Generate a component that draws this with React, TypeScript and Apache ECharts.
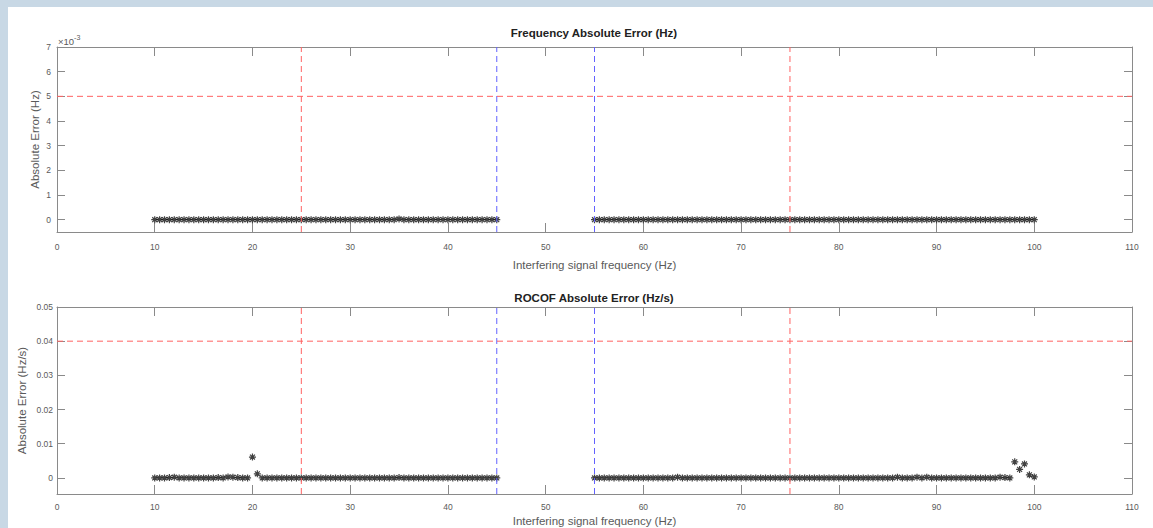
import React, { useEffect, useRef } from "react";
import * as echarts from "echarts";

// Interfering signal frequency sweep (Hz)
const freqLow = [10,10.5,11,11.5,12,12.5,13,13.5,14,14.5,15,15.5,16,16.5,17,17.5,18,18.5,19,19.5,20,20.5,21,21.5,22,22.5,23,23.5,24,24.5,25,25.5,26,26.5,27,27.5,28,28.5,29,29.5,30,30.5,31,31.5,32,32.5,33,33.5,34,34.5,35,35.5,36,36.5,37,37.5,38,38.5,39,39.5,40,40.5,41,41.5,42,42.5,43,43.5,44,44.5,45];
const freqHigh = [55,55.5,56,56.5,57,57.5,58,58.5,59,59.5,60,60.5,61,61.5,62,62.5,63,63.5,64,64.5,65,65.5,66,66.5,67,67.5,68,68.5,69,69.5,70,70.5,71,71.5,72,72.5,73,73.5,74,74.5,75,75.5,76,76.5,77,77.5,78,78.5,79,79.5,80,80.5,81,81.5,82,82.5,83,83.5,84,84.5,85,85.5,86,86.5,87,87.5,88,88.5,89,89.5,90,90.5,91,91.5,92,92.5,93,93.5,94,94.5,95,95.5,96,96.5,97,97.5,98,98.5,99,99.5,100];

// Frequency absolute error (Hz)
const freqErrLow = [0,0,0,0,0,0,0,0,0,0,0,0,0,0,0,0,0,0,0,0,0,0,0,0,0,0,0,0,0,0,0,0,0,0,0,0,0,0,0,0,0,0,0,0,0,0,0,0,0,0,0.00003,0,0,0,0,0,0,0,0,0,0,0,0,0,0,0,0,0,0,0,0];
const freqErrHigh = [0,0,0,0,0,0,0,0,0,0,0,0,0,0,0,0,0,0,0,0,0,0,0,0,0,0,0,0,0,0,0,0,0,0,0,0,0,0,0,0,0,0,0,0,0,0,0,0,0,0,0,0,0,0,0,0,0,0,0,0,0,0,0,0,0,0,0,0,0,0,0,0,0,0,0,0,0,0,0,0,0,0,0,0,0,0,0,0,0,0,0];

// ROCOF absolute error (Hz/s)
const rocofErrLow = [0,0,0,0.0001,0.0002,0,0,0,0,0,0,0,0,0.0001,0,0.0003,0.0002,0.0001,0,0,0.0061,0.0012,0,0,0,0,0,0,0,0,0,0,0,0,0,0,0,0,0,0,0,0,0,0,0,0,0,0,0,0,0.0001,0,0,0,0,0,0,0,0,0,0,0,0,0,0,0,0,0,0,0,0];
const rocofErrHigh = [0,0,0,0,0,0,0,0,0,0,0,0,0,0,0,0,0,0.0002,0,0,0,0,0,0,0,0,0,0,0,0,0,0,0,0,0,0,0,0,0,0,0,0,0,0,0,0,0,0,0,0,0,0,0,0,0,0,0,0,0,0,0,0,0.0002,0,0,0,0.0002,0,0.0002,0,0,0,0,0,0,0,0,0,0,0,0,0,0,0.0002,0.0001,0,0.0047,0.0025,0.0041,0.0009,0.0003];

const xTicks = [0, 10, 20, 30, 40, 50, 60, 70, 80, 90, 100, 110];
const freqYTicks = [0, 0.001, 0.002, 0.003, 0.004, 0.005, 0.006, 0.007];
const rocofYTicks = [0, 0.01, 0.02, 0.03, 0.04, 0.05];

const redLinesX = [25, 75];
const blueLinesX = [45, 55];
const freqLimit = 0.005;
const rocofLimit = 0.04;

const X_MIN = 0;
const X_MAX = 110;
const FREQ_Y = [-0.0005, 0.007];
const ROCOF_Y = [-0.0047, 0.05];

const FONT = "Liberation Sans";
const LINE = "#8a8a8a";
const LABEL = "#5a5a5a";
const RED = "#ff6262";
const BLUE = "#6262ff";
const BG_STRIP = "#c8d8e5";
const STAR = "path://M5,0L5,10M0,5L10,5M1.5,1.5L8.5,8.5M1.5,8.5L8.5,1.5";

const zip = (xs: number[], ys: number[]) => xs.map((x, i) => [x, ys[i]]);

export default function App() {
  const ref = useRef<HTMLDivElement>(null);
  useEffect(() => {
    document.documentElement.style.background = "#ffffff";
    document.documentElement.style.overflow = "hidden";
    document.body.style.margin = "0";
    document.body.style.background = "#ffffff";
    const chart = echarts.init(ref.current!, null, { renderer: "svg" });

    const xBottom = (gridIndex: number, labelMargin: number, nameGap: number) => ({
      type: "value",
      gridIndex,
      position: "bottom",
      min: X_MIN,
      max: X_MAX,
      interval: 10,
      name: "Interfering signal frequency (Hz)",
      nameLocation: "middle",
      nameGap,
      nameMoveOverlap: false,
      nameTextStyle: { fontFamily: FONT, fontSize: 11.5, color: LABEL },
      axisLine: { show: true, onZero: false, lineStyle: { color: LINE, width: 1 } },
      axisTick: { show: true, inside: true, length: 9, lineStyle: { color: LINE } },
      axisLabel: {
        show: true,
        margin: labelMargin,
        fontFamily: FONT,
        fontSize: 8.5,
        color: LABEL,
        customValues: xTicks,
      },
      splitLine: { show: false },
    });
    const xTop = (gridIndex: number) => ({
      type: "value",
      gridIndex,
      position: "top",
      min: X_MIN,
      max: X_MAX,
      interval: 10,
      axisLine: { show: true, onZero: false, lineStyle: { color: LINE, width: 1 } },
      axisTick: { show: true, inside: true, length: 9, lineStyle: { color: LINE } },
      axisLabel: { show: false },
      splitLine: { show: false },
    });
    const yLeft = (gridIndex: number, range: number[], ticks: number[], name: string, nameGap: number, labelMargin: number, fmt: (v: number) => string) => ({
      type: "value",
      gridIndex,
      position: "left",
      min: range[0],
      max: range[1],
      name,
      nameLocation: "middle",
      nameGap,
      nameMoveOverlap: false,
      nameTextStyle: { fontFamily: FONT, fontSize: 11.5, color: LABEL },
      axisLine: { show: true, onZero: false, lineStyle: { color: LINE, width: 1 } },
      axisTick: { show: true, inside: true, length: 8, lineStyle: { color: LINE }, customValues: ticks },
      axisLabel: {
        show: true,
        margin: labelMargin,
        fontFamily: FONT,
        fontSize: 8.5,
        color: LABEL,
        customValues: ticks,
        formatter: fmt,
      },
      splitLine: { show: false },
    });
    const yRight = (gridIndex: number, range: number[], ticks: number[]) => ({
      type: "value",
      gridIndex,
      position: "right",
      min: range[0],
      max: range[1],
      axisLine: { show: true, onZero: false, lineStyle: { color: LINE, width: 1 } },
      axisTick: { show: true, inside: true, length: 8, lineStyle: { color: LINE }, customValues: ticks },
      axisLabel: { show: false, customValues: ticks },
      splitLine: { show: false },
    });

    const scatter = (xAxisIndex: number, yAxisIndex: number, data: number[][]) => ({
      type: "scatter",
      xAxisIndex,
      yAxisIndex,
      data,
      symbol: STAR,
      symbolSize: 7,
      itemStyle: { color: "transparent", borderColor: "#111", borderWidth: 1.2 },
      z: 3,
    });
    const refLine = (axisIndex: number, color: string, data: number[][]) => ({
      type: "line",
      xAxisIndex: axisIndex,
      yAxisIndex: axisIndex,
      data,
      symbol: "none",
      silent: true,
      z: 4,
      lineStyle: { color, type: [6, 4], width: 1 },
      itemStyle: { color },
    });
    const refLinesFor = (axisIndex: number, yRange: number[], limit: number) => [
      ...redLinesX.map((x) => refLine(axisIndex, RED, [[x, yRange[0]], [x, yRange[1]]])),
      ...blueLinesX.map((x) => refLine(axisIndex, BLUE, [[x, yRange[0]], [x, yRange[1]]])),
      refLine(axisIndex, RED, [[X_MIN, limit], [X_MAX, limit]]),
    ];

    const titleStyle = (text: string) => ({
      text,
      fontFamily: FONT,
      fontWeight: "bold",
      fontSize: 11.5,
      fill: "#222",
      textAlign: "center",
      textVerticalAlign: "middle",
    });

    chart.setOption({
      animation: false,
      backgroundColor: "#ffffff",
      grid: [
        { left: 49, top: 40, width: 1075, height: 185, outerBoundsMode: "none", containLabel: false },
        { left: 49, top: 300, width: 1075, height: 187, outerBoundsMode: "none", containLabel: false },
      ],
      xAxis: [xBottom(0, 10, 27), xTop(0), xBottom(1, 8, 21), xTop(1)],
      yAxis: [
        yLeft(0, FREQ_Y, freqYTicks, "Absolute Error (Hz)", 16, 6, (v: number) => String(Math.round(v * 1000))),
        yRight(0, FREQ_Y, freqYTicks),
        yLeft(1, ROCOF_Y, rocofYTicks, "Absolute Error (Hz/s)", 29, 4, (v: number) => (v === 0 ? "0" : v.toFixed(2))),
        yRight(1, ROCOF_Y, rocofYTicks),
      ],
      graphic: [
        { type: "text", x: 586, y: 26, style: titleStyle("Frequency Absolute Error (Hz)") },
        { type: "text", x: 586, y: 291, style: titleStyle("ROCOF Absolute Error (Hz/s)") },
        {
          type: "text",
          x: 50,
          y: 34,
          style: {
            text: "×10{sup|-3}",
            fontFamily: FONT,
            fontSize: 9.5,
            fill: LABEL,
            textVerticalAlign: "middle",
            rich: { sup: { fontFamily: FONT, fontSize: 7, fill: LABEL, verticalAlign: "top", padding: [0, 0, 7, 0] } },
          },
        },
      ],
      series: [
        scatter(0, 0, zip(freqLow, freqErrLow)),
        scatter(0, 0, zip(freqHigh, freqErrHigh)),
        ...refLinesFor(0, FREQ_Y, freqLimit),
        scatter(2, 2, zip(freqLow, rocofErrLow)),
        scatter(2, 2, zip(freqHigh, rocofErrHigh)),
        ...refLinesFor(2, ROCOF_Y, rocofLimit),
      ],
    });
    return () => chart.dispose();
  }, []);
  return (
    <>
      <div
        ref={ref}
        style={{ position: "fixed", left: 8, top: 7, width: 1160, height: 530, background: "#fff" }}
      />
      <div style={{ position: "fixed", left: 0, top: 0, width: 8, bottom: 0, background: BG_STRIP }} />
      <div style={{ position: "fixed", left: 0, top: 0, right: 0, height: 7, background: BG_STRIP }} />
    </>
  );
}
